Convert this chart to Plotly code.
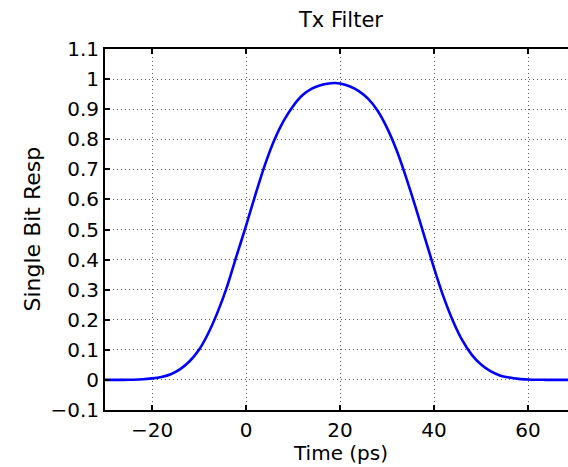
import plotly.graph_objects as go

# Data
time_ps = [-30, -26, -24, -22, -20, -18, -16, -14, -12, -10, -8, -6, -4, -2, 0, 2, 4, 6, 8,
           10, 12, 14, 16, 18, 19, 20, 22, 24, 26, 28, 30, 32, 34, 36, 38, 40, 42, 44,
           46, 48, 50, 52, 54, 56, 58, 60, 62, 64, 66, 70]
resp = [0.0, 0.0003, 0.0008, 0.002, 0.005, 0.010, 0.019, 0.036, 0.062, 0.100, 0.156,
        0.227, 0.312, 0.413, 0.512, 0.616, 0.714, 0.797, 0.861, 0.910, 0.946, 0.968,
        0.980, 0.986, 0.987, 0.985, 0.976, 0.960, 0.934, 0.895, 0.838, 0.765, 0.676,
        0.578, 0.475, 0.372, 0.277, 0.197, 0.132, 0.084, 0.051, 0.029, 0.015, 0.008,
        0.0035, 0.0015, 0.0006, 0.0002, 0.0, 0.0]

x_ticks = [-20, 0, 20, 40, 60]
x_ticktext = ["\u221220", "0", "20", "40", "60"]
y_ticks = [-0.1, 0, 0.1, 0.2, 0.3, 0.4, 0.5, 0.6, 0.7, 0.8, 0.9, 1.0, 1.1]
y_ticktext = ["\u22120.1", "0", "0.1", "0.2", "0.3", "0.4", "0.5", "0.6", "0.7",
              "0.8", "0.9", "1", "1.1"]

FONT = "DejaVu Sans, Arial, sans-serif"

fig = go.Figure()
fig.add_trace(go.Scatter(x=time_ps, y=resp, mode="lines",
                         line=dict(color="#0000FF", width=2.6, shape="spline", smoothing=0.6),
                         showlegend=False, hoverinfo="skip"))

axis_common = dict(
    showline=True, linecolor="black", linewidth=2,
    ticks="inside", ticklen=5, tickwidth=2, tickcolor="black",
    showgrid=True, gridcolor="rgba(0,0,0,0.65)", gridwidth=1, griddash="1px,3px",
    zeroline=False,
    tickfont=dict(family=FONT, size=20, color="black"),
)

fig.update_xaxes(range=[-30, 68.5], tickvals=x_ticks, ticktext=x_ticktext,
                 mirror="ticks", ticklabelstandoff=1, **axis_common)
fig.update_yaxes(range=[-0.1, 1.1], tickvals=y_ticks, ticktext=y_ticktext,
                 mirror=False, **axis_common)

fig.update_layout(
    width=568, height=467,
    margin=dict(l=105, r=0, t=49, b=57),
    paper_bgcolor="white", plot_bgcolor="white",
    font=dict(family=FONT, size=20, color="black"),
    annotations=[
        dict(text="Tx Filter", xref="paper", yref="paper", x=0.508, y=1.0 + 29/361,
             xanchor="center", yanchor="middle", showarrow=False,
             font=dict(family=FONT, size=21, color="black")),
        dict(text="Time (ps)", xref="paper", yref="paper", x=0.508, y=-43/361,
             xanchor="center", yanchor="middle", showarrow=False,
             font=dict(family=FONT, size=20, color="black")),
        dict(text="Single Bit Resp", xref="paper", yref="paper", x=-73/463, y=0.5,
             xanchor="center", yanchor="middle", showarrow=False, textangle=-90,
             font=dict(family=FONT, size=22, color="black")),
    ],
)

fig.write_html("out.html")
